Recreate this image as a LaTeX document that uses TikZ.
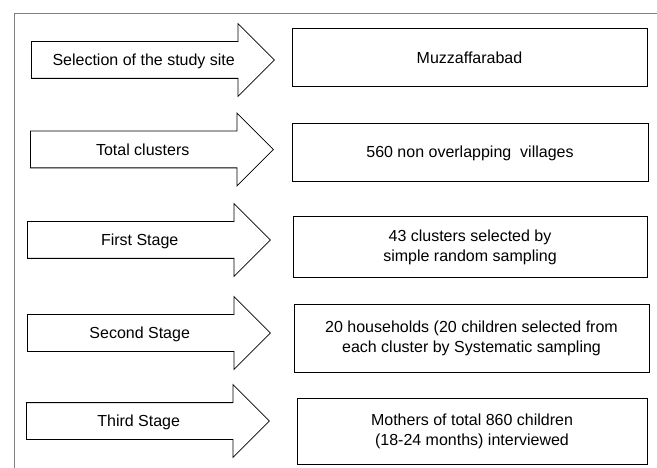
\documentclass[tikz,border=0pt]{standalone}
\usepackage{fontspec}
\setmainfont{Liberation Sans}
\usepackage{tikz}
\usetikzlibrary{shapes.arrows}
\usetikzlibrary{positioning}
\tikzstyle{stage}=[draw,single arrow,anchor=tail,single arrow head extend=18pt,minimum height=243pt,text height=11.5pt,text depth=0pt,inner ysep=12.25pt,line width=0.8pt]
\tikzstyle{result}=[draw,rectangle,align=center,line width=1pt,inner sep=0pt]

\begin{document}
\begin{tikzpicture}[x=1pt,y=-1pt,font=\fontsize{16}{20}\selectfont]
\useasboundingbox (0,0) rectangle (657,468);
\draw [gray,line width=0.9pt] (14,468) -- (14,13) -- (657,13);
% stages
\node [stage] (s1) at (31,60) {Selection of the study site};
\node [stage] (s2) at (30,149.5) {Total clusters};
\node [stage] (s3) at (27,240) {First Stage};
\node [stage] (s4) at (27,333) {Second Stage};
\node [stage] (s5) at (26,421) {Third Stage};
% boxes
\node [result,minimum width=355pt,minimum height=58pt] (b1) at (469.5,58) {Muzzaffarabad};
\node [result,minimum width=356pt,minimum height=58pt] (b2) at (470,153) {560 non overlapping\ \ villages};
\node [result,minimum width=354pt,minimum height=61pt] (b3) at (470,247.5) {43 clusters selected by\\simple random sampling};
\node [result,minimum width=355pt,minimum height=67pt] (b4) at (471.5,338.5) {20 households (20 children selected from\\each cluster by Systematic sampling};
\node [result,minimum width=350pt,minimum height=66pt] (b5) at (472,431) {Mothers of total 860 children\\(18-24 months) interviewed};
\end{tikzpicture}
\end{document}
